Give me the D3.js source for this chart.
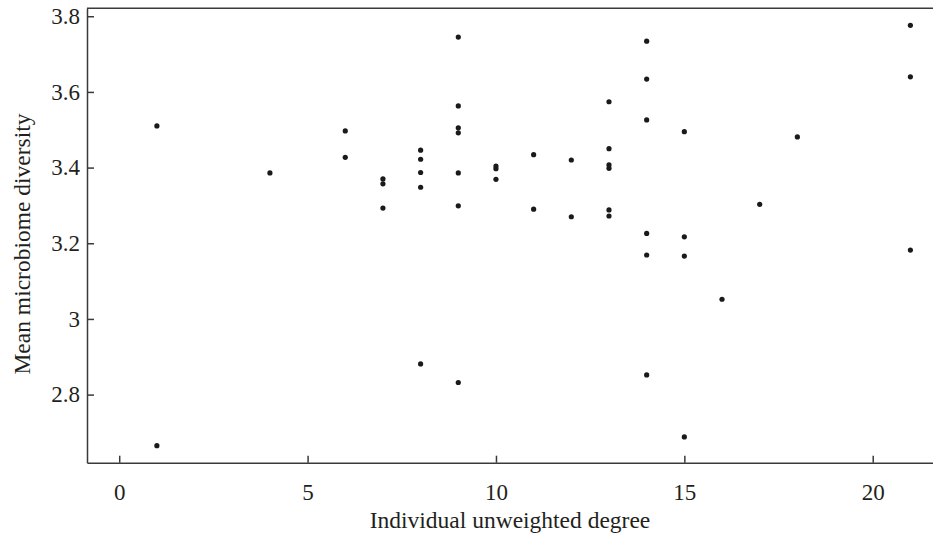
<!DOCTYPE html>
<html>
<head>
<meta charset="utf-8">
<script src="https://cdn.jsdelivr.net/npm/d3@7"></script>
<style>
  html, body { margin: 0; padding: 0; background: #fff; }
  svg { display: block; }
  .axis text { font-family: "Liberation Serif", "DejaVu Serif", serif; font-size: 23px; fill: #231f20; }
  .axis path, .axis line { stroke: #3a3a3a; stroke-width: 1.5; }
  .title { font-family: "Liberation Serif", "DejaVu Serif", serif; font-size: 23.5px; fill: #231f20; }
</style>
</head>
<body>
<svg id="chart" width="933" height="534"></svg>
<script>
// Individual unweighted degree (x) and mean microbiome diversity (y), one entry per individual
const degree = [
  1, 1,
  4,
  6, 6,
  7, 7, 7,
  8, 8, 8, 8, 8,
  9, 9, 9, 9, 9, 9, 9,
  10, 10, 10,
  11, 11,
  12, 12,
  13, 13, 13, 13, 13, 13,
  14, 14, 14, 14, 14, 14,
  15, 15, 15, 15,
  16,
  17,
  18,
  21, 21, 21
];
const diversity = [
  3.510, 2.665,
  3.386,
  3.497, 3.427,
  3.370, 3.357, 3.293,
  3.446, 3.422, 3.387, 3.348, 2.881,
  3.745, 3.563, 3.505, 3.492, 3.386, 3.299, 2.832,
  3.404, 3.397, 3.369,
  3.434, 3.290,
  3.420, 3.270,
  3.574, 3.450, 3.407, 3.398, 3.288, 3.272,
  3.734, 3.634, 3.526, 3.226, 3.169, 2.852,
  3.495, 3.217, 3.166, 2.688,
  3.052,
  3.303,
  3.481,
  3.776, 3.640, 3.182
];
const xTicks = [0, 5, 10, 15, 20];
const yTicks = [2.8, 3.0, 3.2, 3.4, 3.6, 3.8];

const svg = d3.select("#chart");
const plotLeft = 87, plotRight = 933, plotTop = 8.3, plotBottom = 462.7;

const x = d3.scaleLinear().domain([-0.855, 21.6]).range([plotLeft, plotRight]);
const y = d3.scaleLinear().domain([2.62, 3.821]).range([plotBottom, plotTop]);

// x axis with inward ticks
svg.append("g")
  .attr("class", "axis")
  .attr("transform", `translate(0,${plotBottom})`)
  .call(d3.axisBottom(x).tickValues(xTicks).tickSizeInner(-7).tickSizeOuter(0).tickPadding(21)
    .tickFormat(d3.format("d")));

// y axis with inward ticks
svg.append("g")
  .attr("class", "axis")
  .attr("transform", `translate(${plotLeft},0)`)
  .call(d3.axisLeft(y).tickValues(yTicks).tickSizeInner(-7).tickSizeOuter(0).tickPadding(7)
    .tickFormat(d => d3.format("~g")(+d.toFixed(1))));

// top frame line
svg.append("line")
  .attr("x1", plotLeft).attr("x2", plotRight)
  .attr("y1", plotTop).attr("y2", plotTop)
  .attr("stroke", "#3a3a3a").attr("stroke-width", 1.5);

// points
svg.append("g")
  .selectAll("circle")
  .data(d3.range(degree.length))
  .join("circle")
  .attr("cx", i => x(degree[i]))
  .attr("cy", i => y(diversity[i]))
  .attr("r", 2.6)
  .attr("fill", "#1a1a1a");

// axis titles
svg.append("text")
  .attr("class", "title")
  .attr("x", (plotLeft + plotRight) / 2)
  .attr("y", 528)
  .attr("text-anchor", "middle")
  .text("Individual unweighted degree");

svg.append("text")
  .attr("class", "title")
  .attr("transform", `translate(30,244) rotate(-90)`)
  .attr("text-anchor", "middle")
  .text("Mean microbiome diversity");
</script>
</body>
</html>
